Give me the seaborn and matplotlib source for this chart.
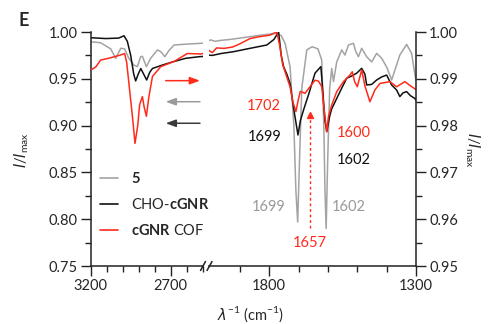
import numpy as np
import pandas as pd
import matplotlib.pyplot as plt
from matplotlib.lines import Line2D
import seaborn as sns

sns.set_style("ticks")
plt.rcParams['font.family'] = ['Lato', 'DejaVu Sans']
plt.rcParams['mathtext.fontset'] = 'custom'
plt.rcParams['mathtext.rm'] = 'Lato'
plt.rcParams['mathtext.it'] = 'DejaVu Sans:italic'
plt.rcParams['mathtext.bf'] = 'Lato:bold'

GRAY = '#a3a3a3'
BLACK = '#111111'
RED = '#ff2a1a'

# ---------------- data ----------------
# high wavenumber window, 3200 -> 2490 cm-1
hi_wn_gray = [3200, 3138, 3075, 3044, 3012, 2988, 2962, 2931, 2908, 2888, 2877, 2852,
              2825, 2783, 2762, 2736, 2712, 2679, 2606, 2512, 2487]
hi_gray = [0.9896, 0.9885, 0.982, 0.9719, 0.9826, 0.982, 0.972, 0.9647, 0.963, 0.9736,
           0.974, 0.963, 0.972, 0.9808, 0.979, 0.9736, 0.980, 0.9861, 0.987, 0.9879, 0.988]

hi_wn_black = [3200, 3106, 3025, 2992, 2971, 2950, 2931, 2919, 2903, 2887, 2869, 2850,
               2831, 2814, 2752, 2689, 2606, 2523, 2487]
hi_black = [0.9939, 0.993, 0.9935, 0.996, 0.990, 0.975, 0.955, 0.9477, 0.955, 0.961,
            0.955, 0.9487, 0.957, 0.961, 0.9647, 0.968, 0.9719, 0.9736, 0.974]

# cGNR COF is on the right-hand scale
hi_wn_red = [3200, 3169, 3138, 3075, 3012, 2988, 2975, 2961, 2939, 2923, 2906, 2894,
             2877, 2866, 2852, 2837, 2814, 2762, 2679, 2596, 2512, 2487]
hi_red = [0.9919, 0.9925, 0.9940, 0.9945, 0.9951, 0.9954, 0.9935, 0.9890, 0.9819, 0.9762,
          0.980, 0.9845, 0.9862, 0.984, 0.9820, 0.986, 0.9905, 0.9926, 0.9937, 0.9954,
          0.9953, 0.9955]

# fingerprint window, 2005 -> 1300 cm-1
lo_wn_gray = [2014, 1999, 1984, 1967, 1934, 1899, 1865, 1831, 1794, 1774, 1759, 1746, 1729,
              1716, 1709, 1703, 1697, 1689, 1672, 1654, 1634, 1621, 1614, 1610, 1606, 1601,
              1594, 1587, 1581, 1570, 1553, 1542, 1530, 1513, 1505, 1496, 1485, 1468, 1451,
              1434, 1417, 1399, 1383, 1369, 1355, 1332, 1315, 1304, 1300]
lo_gray = [0.990, 0.9915, 0.990, 0.991, 0.992, 0.9935, 0.995, 0.9965, 0.998, 0.9986, 0.996,
           0.988, 0.963, 0.90, 0.83, 0.797, 0.86, 0.94, 0.9808, 0.9843, 0.982, 0.97, 0.90,
           0.83, 0.790, 0.86, 0.94, 0.961, 0.947, 0.968, 0.9808, 0.9754, 0.9861, 0.9879,
           0.979, 0.9736, 0.9826, 0.9736, 0.968, 0.9772, 0.972, 0.962, 0.9487, 0.962,
           0.9754, 0.9868, 0.9772, 0.955, 0.948]

lo_wn_black = [2014, 1994, 1964, 1921, 1874, 1834, 1808, 1784, 1768, 1759, 1751, 1740, 1729,
               1715, 1702, 1694, 1683, 1664, 1644, 1624, 1617, 1610, 1604, 1594, 1587, 1570,
               1553, 1536, 1519, 1502, 1485, 1474, 1468, 1451, 1434, 1417, 1400, 1389, 1383,
               1366, 1355, 1344, 1332, 1319, 1304, 1300]
lo_black = [0.9754, 0.975, 0.977, 0.979, 0.982, 0.9845, 0.9861, 0.992, 1.000, 0.975, 0.963,
            0.955, 0.945, 0.915, 0.890, 0.905, 0.9167, 0.935, 0.956, 0.963, 0.935, 0.905,
            0.8935, 0.91, 0.918, 0.929, 0.94, 0.9506, 0.953, 0.956, 0.9612, 0.955, 0.9434,
            0.944, 0.9487, 0.952, 0.954, 0.947, 0.9434, 0.938, 0.931, 0.935, 0.9363, 0.932,
            0.929, 0.927]

lo_wn_red = [2014, 2004, 1994, 1979, 1954, 1924, 1899, 1865, 1834, 1799, 1774, 1764, 1754,
             1746, 1729, 1719, 1709, 1701, 1694, 1678, 1661, 1644, 1632, 1621, 1614, 1604,
             1598, 1587, 1570, 1547, 1525, 1517, 1509, 1500, 1485, 1474, 1457, 1440, 1423,
             1389, 1366, 1338, 1319, 1300]
lo_red = [0.9965, 0.9960, 0.9956, 0.9966, 0.9965, 0.9968, 0.9975, 0.9986, 0.9990, 0.9993,
          1.000, 0.997, 0.993, 0.9915, 0.9883, 0.985, 0.983, 0.9855, 0.9873, 0.9869, 0.9883,
          0.9897, 0.9895, 0.9883, 0.984, 0.9787, 0.982, 0.9844, 0.98725, 0.9894, 0.9908,
          0.9915, 0.9894, 0.9883, 0.9919, 0.9885, 0.9851, 0.9876, 0.9890, 0.9894, 0.9883,
          0.9894, 0.9885, 0.9877]

legend_labels = ['$\\mathbf{5}$', 'CHO-$\\mathbf{cGNR}$', '$\\mathbf{cGNR}$ COF']

# ---------------- figure ----------------
W, H = 489, 324
fig = plt.figure(figsize=(W / 100, H / 100), dpi=100)


def fx(px):
    return px / W


def fy(py):
    return 1 - py / H


ax_l = fig.add_axes([fx(90.7), fy(266), fx(203 - 90.7), fy(32) - fy(266)])
ax_r = fig.add_axes([fx(209), fy(266), fx(416 - 209), fy(32) - fy(266)])
ax_l2 = ax_l.twinx()
ax_r2 = ax_r.twinx()

lw = 1.1
sns.lineplot(x=hi_wn_gray, y=hi_gray, ax=ax_l, color=GRAY, lw=lw)
sns.lineplot(x=hi_wn_black, y=hi_black, ax=ax_l, color=BLACK, lw=lw)
sns.lineplot(x=hi_wn_red, y=hi_red, ax=ax_l2, color=RED, lw=lw)
sns.lineplot(x=lo_wn_gray, y=lo_gray, ax=ax_r, color=GRAY, lw=lw)
sns.lineplot(x=lo_wn_black, y=lo_black, ax=ax_r, color=BLACK, lw=lw)
sns.lineplot(x=lo_wn_red, y=lo_red, ax=ax_r2, color=RED, lw=lw)

for a in (ax_l, ax_r):
    a.set_ylim(0.75, 1.0)
for a in (ax_l2, ax_r2):
    a.set_ylim(0.95, 1.0)
ax_l.set_xlim(3200, 2498)
ax_r.set_xlim(2005, 1300)

for a in (ax_l2, ax_r2):
    a.patch.set_visible(False)

# spines
for a in (ax_l, ax_r, ax_l2, ax_r2):
    for s in a.spines.values():
        s.set_visible(False)
        s.set_linewidth(1.1)
        s.set_color('#222222')
ax_l.spines['left'].set_visible(True)
ax_l.spines['bottom'].set_visible(True)
ax_r.spines['bottom'].set_visible(True)
ax_r2.spines['right'].set_visible(True)

tick_kw = dict(direction='out', width=1.0, color='#222222', labelsize=10.5, pad=2.5)
ax_l.set_xticks([3200, 2700])
ax_l.set_xticks(np.arange(3200, 2490, -100), minor=True)
ax_r.set_xticks([1800, 1300])
ax_r.set_xticks(np.arange(1900, 1299, -100), minor=True)
ax_l.set_yticks([0.75, 0.80, 0.85, 0.90, 0.95, 1.00])
ax_l.set_yticks(np.arange(0.775, 1.0, 0.05), minor=True)
ax_l.set_yticklabels(['0.75', '0.80', '0.85', '0.90', '0.95', '1.00'])
ax_r2.set_yticks([0.95, 0.96, 0.97, 0.98, 0.99, 1.00])
ax_r2.set_yticks(np.arange(0.955, 1.0, 0.01), minor=True)
ax_r2.set_yticklabels(['0.95', '0.96', '0.97', '0.98', '0.99', '1.00'])

for a in (ax_l, ax_r, ax_r2):
    a.tick_params(which='major', length=7, **tick_kw)
    a.tick_params(which='minor', length=4, direction='out', width=1.0, color='#222222')
ax_l.tick_params(axis='y', which='both', right=False)
ax_r.tick_params(axis='y', which='both', left=False, labelleft=False)
ax_r2.tick_params(axis='x', which='both', bottom=False, labelbottom=False)
ax_r2.tick_params(axis='y', which='both', left=False, right=True, labelright=True)
ax_l2.set_yticks([])
ax_l2.tick_params(axis='both', which='both', left=False, right=False, bottom=False,
                  labelbottom=False)
for a in (ax_l, ax_r, ax_l2, ax_r2):
    a.set_xlabel('')
    a.set_ylabel('')

# axis break marks
for xb in (203, 209.5):
    fig.add_artist(Line2D([fx(xb - 2.5), fx(xb + 2.5)], [fy(270.5), fy(261.5)],
                          color='#222222', lw=1.1))

# arrows telling which scale each trace uses
arrow_y = [0.948, 0.9255, 0.9025]
arrow_c = [RED, '#9a9a9a', '#3a3a3a']
for i, (yy, cc) in enumerate(zip(arrow_y, arrow_c)):
    if i == 0:
        start, end = 2731, 2517
    else:
        start, end = 2517, 2731
    ax_l.annotate('', xy=(end, yy), xytext=(start, yy),
                  arrowprops=dict(arrowstyle='-|>,head_length=0.6,head_width=0.22',
                                  color=cc, lw=1.1, shrinkA=0, shrinkB=0),
                  annotation_clip=False)

# peak labels
fs = 10.5
ax_r.text(1762, 0.921, '1702', color=RED, fontsize=fs, ha='right', va='center')
ax_r.text(1757, 0.888, '1699', color=BLACK, fontsize=fs, ha='right', va='center')
ax_r.text(1569, 0.892, '1600', color=RED, fontsize=fs, ha='left', va='center')
ax_r.text(1569, 0.863, '1602', color=BLACK, fontsize=fs, ha='left', va='center')
ax_r.text(1745, 0.8134, '1699', color='#999999', fontsize=fs, ha='right', va='center')
ax_r.text(1586, 0.8134, '1602', color='#999999', fontsize=fs, ha='left', va='center')
ax_r.text(1660, 0.775, '1657', color=RED, fontsize=fs, ha='center', va='center')
ax_r.plot([1660, 1660], [0.791, 0.908], color=RED, lw=1.0, ls=(0, (2, 2)))
ax_r.plot([1660], [0.9115], marker='^', ms=4.5, color=RED, mec=RED)

# legend
handles = [Line2D([], [], color=c, lw=1.2) for c in (GRAY, BLACK, RED)]
ax_l.legend(handles, legend_labels, loc='upper left', frameon=False, fontsize=fs,
            bbox_to_anchor=(fx(100), fy(171)), bbox_transform=fig.transFigure,
            borderaxespad=0, borderpad=0, handlelength=1.25, handletextpad=0.85,
            labelspacing=0.75)

# labels
fig.text(fx(22), fy(150), '$I/I_{\\mathrm{max}}$', rotation=90, fontsize=fs,
         ha='center', va='center')
fig.text(fx(472), fy(150), '$I/I_{\\mathrm{max}}$', rotation=270, fontsize=fs,
         ha='center', va='center')
fig.text(fx(251), fy(314), '$\\lambda^{-1}$ (cm$^{-1}$)', fontsize=fs,
         ha='center', va='center')
fig.text(fx(24), fy(20), 'E', fontsize=13, fontweight='bold', ha='center', va='center')

fig.savefig('out.png', dpi=100)
